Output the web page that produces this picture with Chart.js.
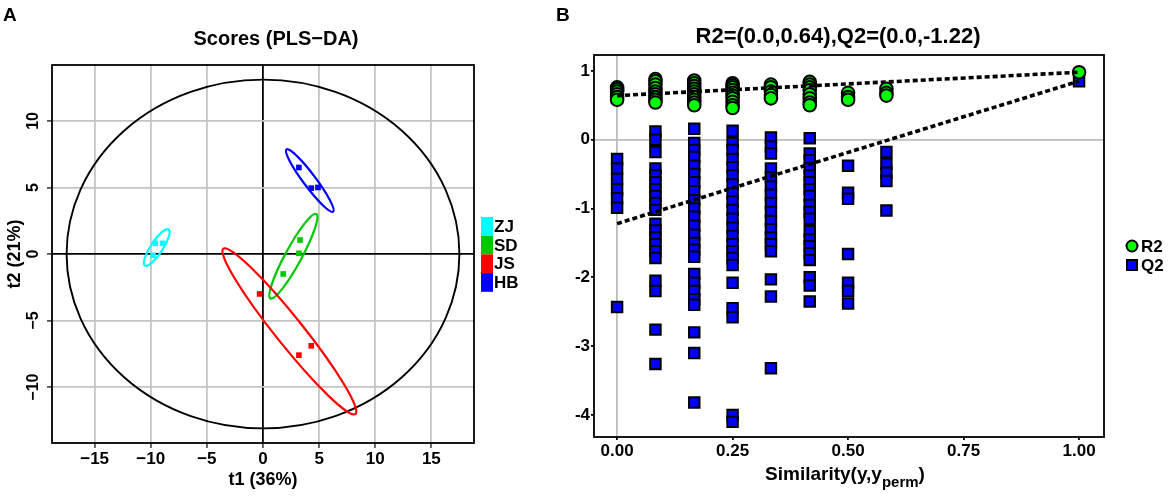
<!DOCTYPE html>
<html>
<head>
<meta charset="utf-8">
<script src="https://cdn.jsdelivr.net/npm/chart.js@4.4.1/dist/chart.umd.min.js"></script>
<style>
  body { margin: 0; background: #fff; width: 1170px; height: 496px; position: relative; overflow: hidden; }
  canvas { position: absolute; top: 0; }
  #chartA { left: 0; }
  #chartB { left: 540px; }
  .tag { position: absolute; top: 4px; font: bold 19px 'Liberation Sans', Arial, sans-serif; }
</style>
</head>
<body>
<canvas id="chartA" width="540" height="496"></canvas>
<canvas id="chartB" width="630" height="496"></canvas>
<div class="tag" style="left:3px">A</div>
<div class="tag" style="left:556px">B</div>
<script>
// ---- panel A : PLS-DA scores ----
const zjT1 = [-9.6, -8.95, -9.8];
const zjT2 = [0.8, 0.8, -0.1];
const sdT1 = [3.3, 3.2, 1.8];
const sdT2 = [1.05, 0.05, -1.5];
const jsT1 = [-0.3, 3.2, 4.3];
const jsT2 = [-3.0, -7.6, -6.9];
const hbT1 = [3.2, 4.3, 4.9];
const hbT2 = [6.5, 4.95, 5.0];
// group ellipses: major axis ends (t1a, t2a, t1b, t2b) and minor/major ratio
const zjEllipse = [-8.41, 1.84, -10.52, -0.87, 0.28];
const sdEllipse = [4.75, 3.0, 0.66, -3.34, 0.17];
const jsEllipse = [-3.54, 0.40, 8.24, -12.02, 0.13];
const hbEllipse = [2.09, 7.86, 6.25, 3.18, 0.16];
const t2Ellipse = [17.5, 13.1]; // Hotelling T2 semi axes
const t1Ticks = [-15, -10, -5, 0, 5, 10, 15];
const t2Ticks = [-10, -5, 0, 5, 10];

// ---- panel B : permutation test ----
const permSim = [0, 0.083, 0.167, 0.25, 0.333, 0.417, 0.5, 0.583, 1];
const r2Perm = [
  [0.76, 0.73, 0.7, 0.66, 0.62, 0.58],
  [0.88, 0.85, 0.8, 0.75, 0.7, 0.66, 0.62, 0.58, 0.54],
  [0.86, 0.82, 0.78, 0.74, 0.7, 0.66, 0.62, 0.58, 0.54, 0.5],
  [0.82, 0.79, 0.76, 0.72, 0.68, 0.64, 0.6, 0.55, 0.5, 0.46],
  [0.8, 0.76, 0.7, 0.65, 0.6],
  [0.84, 0.8, 0.76, 0.72, 0.66, 0.6, 0.54, 0.5],
  [0.68, 0.62, 0.58],
  [0.74, 0.68, 0.64],
  [0.98]
];
const q2Perm = [
  [-0.28, -0.42, -0.57, -0.72, -0.85, -0.99, -2.43],
  [0.12, 0.0, -0.18, -0.42, -0.52, -0.62, -0.72, -0.82, -0.92, -1.02, -1.22, -1.32, -1.42, -1.52, -1.62, -1.72, -2.05, -2.2, -2.76, -3.26],
  [0.16, -0.05, -0.15, -0.25, -0.38, -0.5, -0.62, -0.75, -0.88, -1.0, -1.12, -1.25, -1.38, -1.5, -1.6, -1.7, -1.95, -2.08, -2.2, -2.32, -2.4, -2.8, -3.1, -3.82],
  [0.13, -0.05, -0.15, -0.28, -0.4, -0.52, -0.65, -0.78, -0.9, -1.02, -1.15, -1.28, -1.4, -1.52, -1.62, -1.72, -1.82, -2.08, -2.45, -2.58, -4.0, -4.1],
  [0.03, -0.1, -0.2, -0.42, -0.55, -0.68, -0.8, -0.92, -1.05, -1.18, -1.3, -1.42, -1.52, -1.62, -2.03, -2.28, -3.32],
  [0.02, -0.2, -0.3, -0.42, -0.52, -0.62, -0.72, -0.82, -0.95, -1.05, -1.15, -1.33, -1.45, -1.55, -1.65, -1.75, -2.0, -2.12, -2.35],
  [-0.38, -0.77, -0.86, -1.66, -2.08, -2.2, -2.38],
  [-0.18, -0.35, -0.48, -0.6, -1.03],
  [0.85]
];
const lineEnds = [0, 1];
const r2Line = [0.64, 0.98];
const q2Line = [-1.22, 0.85];
const simTicks = [0, 0.25, 0.5, 0.75, 1];
const qTicks = [-4, -3, -2, -1, 0, 1];

const FAMILY = "'Liberation Sans', Arial, sans-serif";
Chart.defaults.font.family = FAMILY;
Chart.defaults.font.weight = 'bold';
Chart.defaults.color = '#000';

const pts = (xs, ys) => xs.map((x, i) => ({x: x, y: ys[i]}));
const cols = (xs, groups) => groups.flatMap((g, i) => g.map(v => ({x: xs[i], y: v})));
const minus = v => v < 0 ? '\u2212' + Math.abs(v) : String(v);
const setTicks = arr => scale => { scale.ticks = arr.map(v => ({value: v})); };

// ellipses, box, titles, legends
const decor = {
  id: 'decor',
  beforeDatasetsDraw(chart, args, o) {
    const {ctx, scales: {x, y}} = chart;
    ctx.save();
    if (o.t2) {
      const cx = x.getPixelForValue(0), cy = y.getPixelForValue(0);
      ctx.beginPath();
      ctx.ellipse(cx, cy, x.getPixelForValue(o.t2[0]) - cx, cy - y.getPixelForValue(o.t2[1]), 0, 0, Math.PI * 2);
      ctx.strokeStyle = '#000';
      ctx.lineWidth = 1.9;
      ctx.stroke();
    }
    chart.data.datasets.forEach(ds => {
      const e = ds.ellipse;
      if (!e) return;
      const x1 = x.getPixelForValue(e[0]), y1 = y.getPixelForValue(e[1]);
      const x2 = x.getPixelForValue(e[2]), y2 = y.getPixelForValue(e[3]);
      const a = Math.hypot(x2 - x1, y2 - y1) / 2;
      ctx.beginPath();
      ctx.ellipse((x1 + x2) / 2, (y1 + y2) / 2, a, a * e[4], Math.atan2(y2 - y1, x2 - x1), 0, Math.PI * 2);
      ctx.strokeStyle = ds.backgroundColor;
      ctx.lineWidth = 2.2;
      ctx.stroke();
    });
    ctx.restore();
  },
  afterDraw(chart, args, o) {
    const {ctx, chartArea: ca} = chart;
    const mid = (ca.left + ca.right) / 2;
    ctx.save();
    ctx.strokeStyle = '#000';
    ctx.lineWidth = 1.8;
    ctx.strokeRect(ca.left, ca.top, ca.right - ca.left, ca.bottom - ca.top);
    ctx.fillStyle = '#000';
    ctx.textAlign = 'center';
    ctx.textBaseline = 'middle';
    ctx.font = 'bold ' + o.titleSize + 'px ' + FAMILY;
    ctx.fillText(o.title, mid + o.titleDx, o.titleY);

    if (o.rotTickX) {
      const ys = chart.scales.y;
      ctx.font = 'bold 16px ' + FAMILY;
      ys.ticks.forEach(t => {
        ctx.save();
        ctx.translate(o.rotTickX, ys.getPixelForValue(t.value));
        ctx.rotate(-Math.PI / 2);
        ctx.fillText(minus(t.value), 0, 0);
        ctx.restore();
      });
    }

    if (o.subTitle) {
      const [main, sub, tail] = o.subTitle;
      ctx.textAlign = 'left';
      ctx.textBaseline = 'alphabetic';
      const big = 'bold 19px ' + FAMILY, small = 'bold 15px ' + FAMILY;
      ctx.font = big;
      const w1 = ctx.measureText(main).width, w3 = ctx.measureText(tail).width;
      ctx.font = small;
      const w2 = ctx.measureText(sub).width;
      let sx = mid + o.subDx - (w1 + w2 + w3) / 2;
      ctx.font = big;
      ctx.fillText(main, sx, o.subY);
      ctx.font = small;
      ctx.fillText(sub, sx + w1, o.subY + 7);
      ctx.font = big;
      ctx.fillText(tail, sx + w1 + w2, o.subY);
    }

    if (o.boxLegend) {
      const L = o.boxLegend;
      ctx.textAlign = 'left';
      ctx.textBaseline = 'middle';
      ctx.font = 'bold 17px ' + FAMILY;
      chart.data.datasets.forEach((ds, i) => {
        const top = L.y + i * L.h;
        ctx.fillStyle = ds.backgroundColor;
        ctx.fillRect(L.x, top, L.w, L.h);
        ctx.fillStyle = '#000';
        ctx.fillText(ds.label, L.x + L.w + 1, top + L.h / 2 + 1);
      });
    }

    if (o.pointLegend) {
      const L = o.pointLegend;
      ctx.textAlign = 'left';
      ctx.textBaseline = 'middle';
      ctx.font = 'bold 17px ' + FAMILY;
      chart.data.datasets.filter(ds => ds.type !== 'line').forEach((ds, i) => {
        const cy = L.y + i * L.h;
        ctx.fillStyle = ds.backgroundColor;
        ctx.strokeStyle = '#000';
        ctx.lineWidth = 2;
        ctx.beginPath();
        if (ds.pointStyle === 'circle') ctx.arc(L.x, cy, 5.5, 0, Math.PI * 2);
        else ctx.rect(L.x - 5, cy - 5, 10, 10);
        ctx.fill();
        ctx.stroke();
        ctx.fillStyle = '#000';
        ctx.fillText(ds.label, L.x + 9, cy + 1);
      });
    }
    ctx.restore();
  }
};

// ---------- chart A ----------
new Chart(document.getElementById('chartA'), {
  type: 'scatter',
  data: {
    datasets: [
      {label: 'ZJ', data: pts(zjT1, zjT2), backgroundColor: '#00ffff', ellipse: zjEllipse},
      {label: 'SD', data: pts(sdT1, sdT2), backgroundColor: '#00c800', ellipse: sdEllipse},
      {label: 'JS', data: pts(jsT1, jsT2), backgroundColor: '#ff0000', ellipse: jsEllipse},
      {label: 'HB', data: pts(hbT1, hbT2), backgroundColor: '#0000ff', ellipse: hbEllipse}
    ]
  },
  options: {
    responsive: false,
    animation: false,
    events: [],
    layout: {padding: {left: 0, right: 66, top: 65, bottom: 0}},
    elements: {point: {pointStyle: 'rect', radius: 4, borderWidth: 0}},
    plugins: {
      legend: {display: false},
      tooltip: {enabled: false},
      decor: {
        t2: t2Ellipse,
        title: 'Scores (PLS\u2212DA)', titleSize: 20, titleDx: 13, titleY: 39,
        rotTickX: 34,
        boxLegend: {x: 481, y: 217, w: 12, h: 18.7}
      }
    },
    scales: {
      x: {
        type: 'linear', min: -18.8, max: 18.8,
        afterBuildTicks: setTicks(t1Ticks),
        afterFit: s => { s.height = 53; },
        ticks: {autoSkip: false, padding: 1, font: {size: 17}, callback: v => minus(v)},
        grid: {color: c => c.tick && c.tick.value === 0 ? '#000' : '#c4c4c4', lineWidth: 1.8, tickLength: 5, tickColor: '#555'},
        border: {display: false},
        title: {display: true, text: 't1 (36%)', font: {size: 18}, padding: {top: 0, bottom: 5}}
      },
      y: {
        type: 'linear', min: -14.2, max: 14.2,
        afterBuildTicks: setTicks(t2Ticks),
        afterFit: s => { s.width = 52; },
        ticks: {display: false},
        grid: {color: c => c.tick && c.tick.value === 0 ? '#000' : '#c4c4c4', lineWidth: 1.8, tickLength: 5, tickColor: '#555'},
        border: {display: false},
        title: {display: true, text: 't2 (21%)', font: {size: 18}, padding: {top: 4, bottom: 0}}
      }
    }
  },
  plugins: [decor]
});

// ---------- chart B ----------
new Chart(document.getElementById('chartB'), {
  type: 'scatter',
  data: {
    datasets: [
      {type: 'line', label: 'R2 fit', data: pts(lineEnds, r2Line), borderColor: '#000', borderWidth: 3.6,
       borderDash: [5, 3], pointRadius: 0, fill: false, order: 0},
      {type: 'line', label: 'Q2 fit', data: pts(lineEnds, q2Line), borderColor: '#000', borderWidth: 3.6,
       borderDash: [5, 3], pointRadius: 0, fill: false, order: 1},
      {label: 'R2', data: cols(permSim, r2Perm), pointStyle: 'circle', radius: 6.3,
       backgroundColor: '#00ff00', borderColor: '#000', borderWidth: 2, order: 2},
      {label: 'Q2', data: cols(permSim, q2Perm), pointStyle: 'rect', radius: 7.4,
       backgroundColor: '#0000ff', borderColor: '#000', borderWidth: 2, order: 3}
    ]
  },
  options: {
    responsive: false,
    animation: false,
    events: [],
    layout: {padding: {left: 0, right: 66, top: 55, bottom: 0}},
    plugins: {
      legend: {display: false},
      tooltip: {enabled: false},
      decor: {
        title: 'R2=(0.0,0.64),Q2=(0.0,-1.22)', titleSize: 22, titleDx: -11, titleY: 37,
        subTitle: ['Similarity(y,y', 'perm', ')'], subDx: -4, subY: 480,
        pointLegend: {x: 592, y: 246, h: 19}
      }
    },
    scales: {
      x: {
        type: 'linear', min: -0.05, max: 1.054,
        afterBuildTicks: setTicks(simTicks),
        afterFit: s => { s.height = 59; },
        ticks: {autoSkip: false, padding: 1, font: {size: 17}, callback: v => v.toFixed(2)},
        grid: {color: c => c.tick && c.tick.value === 0 ? '#bdbdbd' : 'rgba(0,0,0,0)', lineWidth: 1.8, tickLength: 3, tickColor: '#000'},
        border: {display: false}
      },
      y: {
        type: 'linear', min: -4.32, max: 1.23,
        afterBuildTicks: setTicks(qTicks),
        afterFit: s => { s.width = 54; },
        ticks: {autoSkip: false, padding: 1, font: {size: 17}, callback: v => String(v)},
        grid: {color: c => c.tick && c.tick.value === 0 ? '#bdbdbd' : 'rgba(0,0,0,0)', lineWidth: 1.8, tickLength: 3, tickColor: '#000'},
        border: {display: false}
      }
    }
  },
  plugins: [decor]
});
</script>
</body>
</html>
